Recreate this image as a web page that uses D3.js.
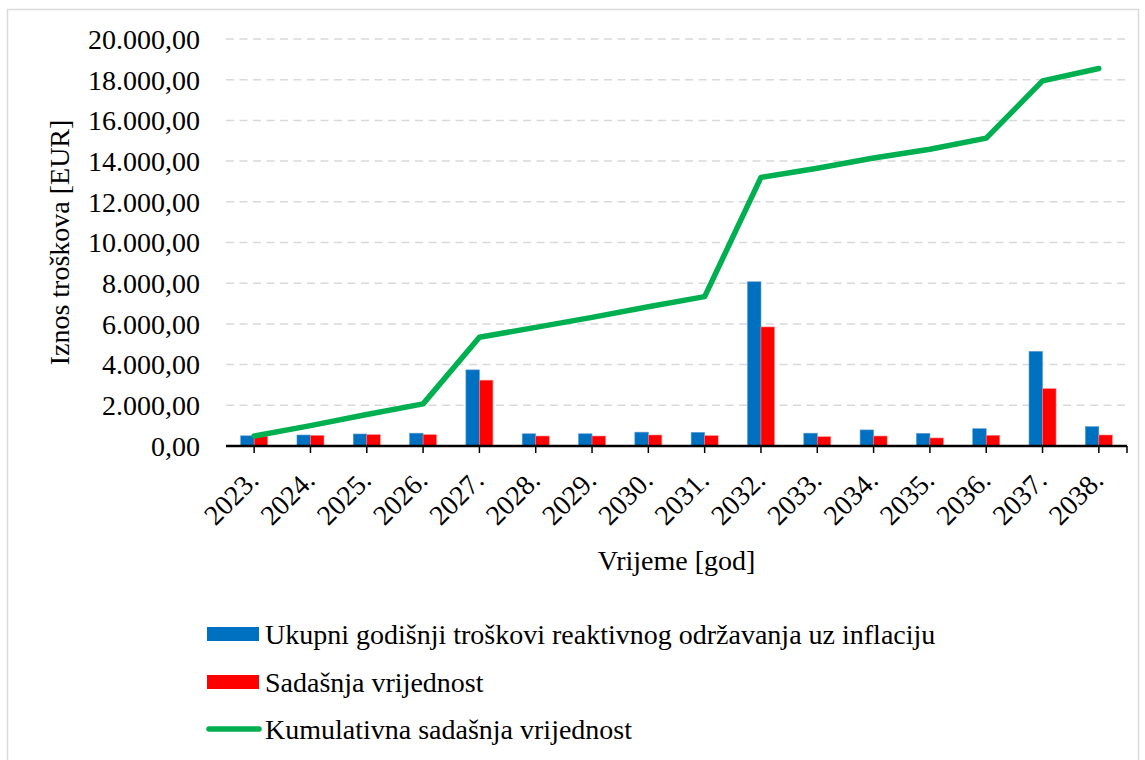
<!DOCTYPE html>
<html>
<head>
<meta charset="utf-8">
<script src="https://cdn.jsdelivr.net/npm/d3@7/dist/d3.min.js"></script>
<style>
  html, body { margin: 0; padding: 0; background: #fff; }
  svg { display: block; }
</style>
</head>
<body>
<svg id="chart" width="1145" height="760"></svg>
<script>
const years = ["2023.", "2024.", "2025.", "2026.", "2027.", "2028.", "2029.", "2030.",
               "2031.", "2032.", "2033.", "2034.", "2035.", "2036.", "2037.", "2038."];
const ukupni = [500, 540, 590, 630, 3740, 600, 600, 680, 670, 8070, 630, 790, 620, 850, 4650, 950];
const sadasnja = [480, 520, 555, 555, 3235, 490, 490, 540, 505, 5850, 455, 490, 395, 525, 2815, 540];
const kumulativna = [490, 1000, 1550, 2070, 5340, 5830, 6320, 6840, 7340, 13200, 13650, 14150, 14580, 15130, 17940, 18550];
const yTicks = [0, 2000, 4000, 6000, 8000, 10000, 12000, 14000, 16000, 18000, 20000];
const seriesNames = ["Ukupni godišnji troškovi reaktivnog održavanja uz inflaciju",
                     "Sadašnja vrijednost", "Kumulativna sadašnja vrijednost"];
const colors = ["#0070C0", "#FF0000", "#00B050"];

(function () {
const FONT = "'Liberation Serif', 'Times New Roman', Tinos, 'Nimbus Roman', 'Nimbus Roman No9 L', FreeSerif, 'Noto Serif', 'DejaVu Serif', serif";
const svg = d3.select("#chart").style("font-family", FONT);
const pLeft = 226, pRight = 1127, pTop = 39, pBottom = 446;

svg.append("rect").attr("x", 7.5).attr("y", 9.5).attr("width", 1131).attr("height", 760)
  .attr("fill", "none").attr("stroke", "#d9d9d9").attr("stroke-width", 1.5);

const x = d3.scaleBand().domain(years).range([pLeft, pRight]).paddingInner(0).paddingOuter(0);
const y = d3.scaleLinear().domain([0, 20000]).range([pBottom, pTop]);
const barW = 13.5;

const fmt = v => {
  const s = d3.format(",.2f")(v);
  return s.replace(/,/g, "#").replace(".", ",").replace(/#/g, ".");
};

svg.append("g").selectAll("line").data(yTicks.filter(d => d > 0)).join("line")
  .attr("x1", pLeft).attr("x2", pRight)
  .attr("y1", d => y(d)).attr("y2", d => y(d))
  .attr("stroke", "#d9d9d9").attr("stroke-width", 1.5).attr("stroke-dasharray", "8,5.5");

svg.append("g").selectAll("text").data(yTicks).join("text")
  .attr("x", 200).attr("y", d => y(d)).attr("dy", "0.35em")
  .attr("text-anchor", "end").attr("font-size", 28)
  .text(d => fmt(d));

const cx = d => x(d) + x.bandwidth() / 2;
svg.append("g").selectAll("rect").data(years).join("rect")
  .attr("x", d => cx(d) - barW).attr("width", barW)
  .attr("y", (d, i) => y(ukupni[i])).attr("height", (d, i) => pBottom - y(ukupni[i]))
  .attr("fill", colors[0]).attr("stroke", "#5b9bd5").attr("stroke-width", 0.6);
svg.append("g").selectAll("rect").data(years).join("rect")
  .attr("x", d => cx(d)).attr("width", barW)
  .attr("y", (d, i) => y(sadasnja[i])).attr("height", (d, i) => pBottom - y(sadasnja[i]))
  .attr("fill", colors[1]).attr("stroke", "#ff7f7f").attr("stroke-width", 0.6);

const xa = svg.append("g");
xa.append("line").attr("x1", pLeft).attr("x2", pRight).attr("y1", pBottom).attr("y2", pBottom)
  .attr("stroke", "#000").attr("stroke-width", 2.5);
xa.selectAll("line.tick").data(years).join("line").attr("class", "tick")
  .attr("x1", d => cx(d)).attr("x2", d => cx(d)).attr("y1", pBottom).attr("y2", pBottom + 7)
  .attr("stroke", "#000").attr("stroke-width", 1.5);
xa.append("line").attr("x1", pRight).attr("x2", pRight).attr("y1", pBottom).attr("y2", pBottom + 7)
  .attr("stroke", "#000").attr("stroke-width", 1.5);
xa.selectAll("text").data(years).join("text")
  .attr("transform", d => `translate(${cx(d) + 6},${pBottom + 36}) rotate(-45)`)
  .attr("text-anchor", "end").attr("font-size", 28)
  .text(d => d);

const line = d3.line().x((d, i) => cx(years[i])).y(d => y(d));
svg.append("path").datum(kumulativna).attr("d", line)
  .attr("fill", "none").attr("stroke", colors[2]).attr("stroke-width", 5.5)
  .attr("stroke-linejoin", "round").attr("stroke-linecap", "round");

svg.append("text").attr("x", (pLeft + pRight) / 2).attr("y", 570)
  .attr("text-anchor", "middle").attr("font-size", 28).text("Vrijeme [god]");
svg.append("text").attr("transform", `translate(69,${(pTop + pBottom) / 2}) rotate(-90)`)
  .attr("text-anchor", "middle").attr("font-size", 28).text("Iznos troškova [EUR]");

const lg = svg.append("g");
const rows = [634, 682, 729];
seriesNames.forEach((name, i) => {
  if (i < 2) {
    lg.append("rect").attr("x", 207).attr("y", rows[i] - 7).attr("width", 52).attr("height", 14)
      .attr("fill", colors[i]);
  } else {
    lg.append("line").attr("x1", 209).attr("x2", 259).attr("y1", rows[i]).attr("y2", rows[i])
      .attr("stroke", colors[i]).attr("stroke-width", 5.5).attr("stroke-linecap", "round");
  }
  lg.append("text").attr("x", 265).attr("y", rows[i]).attr("dy", "0.35em")
    .attr("font-size", 28).text(name);
});
})();
</script>
</body>
</html>
